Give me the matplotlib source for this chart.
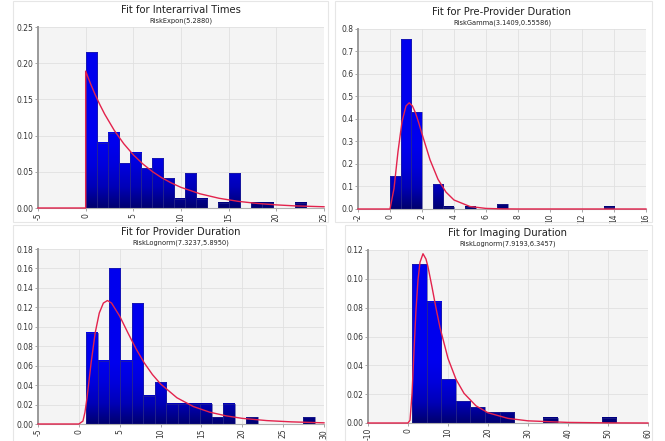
import matplotlib.pyplot as plt
import numpy as np
from matplotlib.colors import LinearSegmentedColormap
from matplotlib.patches import Rectangle

# ---- data ----
# histogram bins (first edge, bin width, density heights) and fitted curves

inter_start, inter_width = 0.0, 1.157
inter_heights = [0.215, 0.090, 0.104, 0.062, 0.076, 0.055, 0.069, 0.041, 0.013, 0.048,
                 0.013, 0.0, 0.007, 0.048, 0.0, 0.007, 0.007, 0.0, 0.0, 0.007]
inter_fit_x = [-5, 0, 0, 0.5, 1, 1.5, 2, 3, 4, 5, 6, 7, 8, 9, 10, 12, 14, 16, 18, 20, 22, 25]
inter_fit_y = [0, 0, 0.189, 0.172, 0.1565, 0.1424, 0.1295, 0.1072, 0.0887, 0.0734, 0.0608,
               0.0503, 0.0416, 0.0345, 0.0285, 0.0196, 0.0134, 0.0092, 0.0063, 0.0043,
               0.0029, 0.0017]

pre_start, pre_width = 0.0, 0.668
pre_heights = [0.145, 0.755, 0.43, 0.0, 0.11, 0.01, 0.0, 0.01, 0.0, 0.0, 0.02,
               0.0, 0.0, 0.0, 0.0, 0.0, 0.0, 0.0, 0.0, 0.0, 0.01]
pre_fit_x = [-2, 0, 0.25, 0.5, 0.75, 1.0, 1.2, 1.4, 1.6, 1.8, 2.0, 2.5, 3, 3.5, 4, 5, 6, 7, 8, 16]
pre_fit_y = [0, 0, 0.091, 0.255, 0.388, 0.458, 0.472, 0.458, 0.426, 0.382, 0.334, 0.219,
             0.132, 0.075, 0.040, 0.011, 0.0026, 0.0006, 0.0001, 0]

prov_start, prov_width = 0.9, 1.398
prov_heights = [0.094, 0.065, 0.16, 0.065, 0.124, 0.029, 0.043, 0.021, 0.021, 0.021,
                0.021, 0.007, 0.021, 0.0, 0.007, 0.0, 0.0, 0.0, 0.0, 0.007]
prov_fit_x = [-5, 0, 0.5, 0.75, 1, 1.5, 2, 2.5, 3, 3.5, 4, 5, 6, 7, 8, 9, 10, 12, 14, 16,
              18, 20, 23, 26, 30]
prov_fit_y = [0, 0, 0.003, 0.0122, 0.0271, 0.063, 0.0939, 0.1142, 0.1244, 0.127, 0.1244,
              0.1109, 0.0938, 0.0773, 0.0629, 0.0509, 0.0412, 0.027, 0.018, 0.0122,
              0.0084, 0.0058, 0.0035, 0.0022, 0.0012]

img_start, img_width = 1.0, 3.65
img_heights = [0.11, 0.084, 0.0305, 0.015, 0.011, 0.0075, 0.0075, 0.0, 0.0, 0.0035,
               0.0, 0.0, 0.0, 0.0035]
img_fit_x = [-10, 0, 0.5, 1, 1.5, 2, 2.5, 3, 3.75, 4.5, 5, 6, 7, 8, 10, 12, 14, 17, 20,
             25, 30, 40, 50, 60]
img_fit_y = [0, 0, 0.0019, 0.02, 0.0501, 0.0785, 0.0992, 0.1115, 0.1174, 0.1137, 0.1083,
             0.0943, 0.0797, 0.0662, 0.0448, 0.0303, 0.0206, 0.0119, 0.0071, 0.0032,
             0.0015, 0.0004, 0.0001, 0.0]

titles = ["Fit for Interarrival Times", "Fit for Pre-Provider Duration",
          "Fit for Provider Duration", "Fit for Imaging Duration"]
subtitles = ["RiskExpon(5.2880)", "RiskGamma(3.1409,0.55586)",
             "RiskLognorm(7.3237,5.8950)", "RiskLognorm(7.9193,6.3457)"]

bar_cmap = LinearSegmentedColormap.from_list(
    "bars", ["#000070", "#0000b8", "#0000dc", "#0000ee"])


def draw_panel(ax, start, width, heights, fx, fy, xlim, xstep, ylim, ystep, yfmt,
               title, subtitle):
    heights = np.asarray(heights)
    lefts = start + width * np.arange(len(heights))
    bars = ax.bar(lefts, heights, width=width, align="edge", facecolor="none",
                  edgecolor="#2a2a8a", linewidth=0.4, zorder=3)
    # vertical gradient inside each bar: dark at the base, bright blue higher up
    for b in bars:
        h = b.get_height()
        if h <= 0:
            continue
        x0, w = b.get_x(), b.get_width()
        vals = np.clip(np.linspace(0, h, 80) / ylim / 0.35, 0, 1)[:, None]
        ax.imshow(vals, cmap=bar_cmap, vmin=0, vmax=1, origin="lower",
                  extent=[x0, x0 + w, 0, h], aspect="auto", zorder=2,
                  interpolation="bilinear")
    ax.plot(fx, fy, color="#e3224c", linewidth=1.0, zorder=4, clip_on=False)

    ax.set_xlim(*xlim)
    ax.set_ylim(0, ylim)
    ax.set_aspect("auto")
    ax.set_xticks(np.arange(xlim[0], xlim[1] + 0.001, xstep))
    ax.set_yticks(np.arange(0, ylim + ystep / 2, ystep))
    ax.set_yticklabels([yfmt.format(v) for v in ax.get_yticks()])
    ax.set_xticklabels([str(int(v)) for v in ax.get_xticks()], rotation=90)

    ax.set_facecolor("#f4f4f4")
    ax.grid(True, color="#e0e0e0", linewidth=0.6, zorder=0)
    ax.set_axisbelow(True)
    for s in ("top", "right"):
        ax.spines[s].set_visible(False)
    ax.spines["left"].set_color("#9a9a9a")
    ax.spines["left"].set_linewidth(1.4)
    ax.spines["bottom"].set_color("#b0b0b0")
    ax.spines["bottom"].set_linewidth(0.8)
    ax.tick_params(length=2, width=0.6, color="#999999", labelsize=5.5,
                   labelcolor="#333333", pad=1.5)

    ax.annotate(title, xy=(0.5, 1), xycoords="axes fraction", xytext=(0, 8.5),
                textcoords="offset points", ha="center", va="bottom", fontsize=7.2,
                color="#222222")
    ax.annotate(subtitle, xy=(0.5, 1), xycoords="axes fraction", xytext=(0, 2),
                textcoords="offset points", ha="center", va="bottom", fontsize=4.8,
                color="#222222")


W, H = 665, 441
fig = plt.figure(figsize=(W / 100, H / 100), dpi=100)
fig.patch.set_facecolor("white")


def px_axes(left, right, top, bottom):
    return fig.add_axes([left / W, 1 - bottom / H, (right - left) / W, (bottom - top) / H])


# light panel frames
for (x0, x1, y0, y1) in [(13, 328, 1, 222), (335, 652, 1, 222),
                         (13, 326, 225, 445), (345, 652, 225, 445)]:
    fig.add_artist(Rectangle((x0 / W, 1 - y1 / H), (x1 - x0) / W, (y1 - y0) / H,
                             transform=fig.transFigure, fill=False,
                             edgecolor="#e6e6e6", linewidth=0.8))

ax1 = px_axes(38, 324, 27, 208)
ax2 = px_axes(358, 646, 29, 209)
ax3 = px_axes(38, 324, 249, 424)
ax4 = px_axes(368, 648, 250, 423)

draw_panel(ax1, inter_start, inter_width, inter_heights, inter_fit_x, inter_fit_y,
           (-5, 25), 5, 0.25, 0.05, "{:.2f}", titles[0], subtitles[0])
draw_panel(ax2, pre_start, pre_width, pre_heights, pre_fit_x, pre_fit_y,
           (-2, 16), 2, 0.8, 0.1, "{:.1f}", titles[1], subtitles[1])
draw_panel(ax3, prov_start, prov_width, prov_heights, prov_fit_x, prov_fit_y,
           (-5, 30), 5, 0.18, 0.02, "{:.2f}", titles[2], subtitles[2])
draw_panel(ax4, img_start, img_width, img_heights, img_fit_x, img_fit_y,
           (-10, 60), 10, 0.12, 0.02, "{:.2f}", titles[3], subtitles[3])

fig.savefig("out.png", dpi=100)
